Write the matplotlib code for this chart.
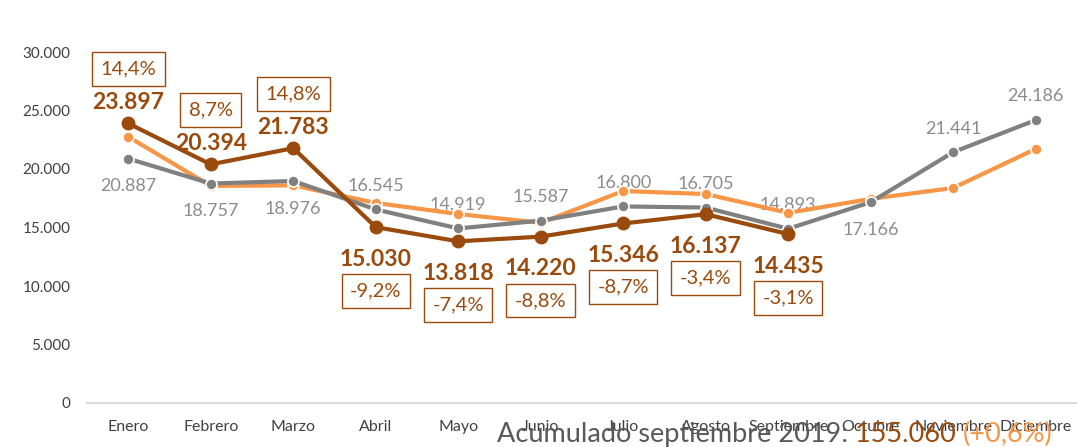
import matplotlib
matplotlib.use("Agg")
import matplotlib.pyplot as plt

plt.rcParams['font.family'] = ['Lato', 'DejaVu Sans']

months = ["Enero", "Febrero", "Marzo", "Abril", "Mayo", "Junio", "Julio",
          "Agosto", "Septiembre", "Octubre", "Noviembre", "Diciembre"]
serie_2017 = [22750, 18550, 18600, 17100, 16150, 15400, 18120, 17860, 16250, 17450, 18380, 21720]
serie_2018 = [20887, 18757, 18976, 16545, 14919, 15587, 16800, 16705, 14893, 17166, 21441, 24186]
serie_2019 = [23897, 20394, 21783, 15030, 13818, 14220, 15346, 16137, 14435]
yticks = [0, 5000, 10000, 15000, 20000, 25000, 30000]

# label placement (1 = above point, -1 = below)
pos_2018 = [-1, -1, -1, 1, 1, 1, 1, 1, 1, -1, 1, 1]
pos_2019 = [1, 1, 1, -1, -1, -1, -1, -1, -1]

C_BROWN = "#9A4A0C"
C_ORANGE = "#F79646"
C_GRAY = "#808080"
C_GRAYTXT = "#8C8C8C"
C_TICK = "#404040"

def fmt(v):
    return f"{v:,.0f}".replace(",", ".")

fig = plt.figure(figsize=(10.77, 4.47), dpi=100)
ax = fig.add_axes([87/1077, 44/447, 990/1077, 351/447])

x = list(range(len(months)))
ax.plot(x, serie_2017, color=C_ORANGE, lw=3, marker='o', ms=8, mfc=C_ORANGE,
        mec='white', mew=1.2, zorder=3)
ax.plot(x, serie_2018, color=C_GRAY, lw=3, marker='o', ms=8, mfc=C_GRAY,
        mec='white', mew=1.2, zorder=4)
ax.plot(x[:len(serie_2019)], serie_2019, color=C_BROWN, lw=3, marker='o', ms=9,
        mfc=C_BROWN, mec=C_BROWN, mew=1, zorder=5)

ax.set_xlim(-0.5, 11.5)
ax.set_ylim(0, 30000)
ax.set_yticks(yticks)
ax.set_yticklabels([fmt(t) for t in yticks], fontsize=11, color=C_TICK)
ax.set_xticks(x)
ax.set_xticklabels(months, fontsize=11.5, color=C_TICK)
ax.tick_params(length=0, pad=12)
ax.tick_params(axis='y', pad=12)
for s in ["top", "right", "left"]:
    ax.spines[s].set_visible(False)
ax.spines["bottom"].set_color("#D9D9D9")
ax.spines["bottom"].set_linewidth(1.5)

# gray labels
for i, (v, p) in enumerate(zip(serie_2018, pos_2018)):
    off = 17 if p > 0 else -20
    ax.annotate(fmt(v), (i, v), xytext=(0, off), textcoords='offset points',
                ha='center', va='center', fontsize=13, color=C_GRAYTXT, zorder=2)

# brown labels + percentage boxes
for i, (v, p) in enumerate(zip(serie_2019, pos_2019)):
    off = 15 if p > 0 else -23
    ax.annotate(fmt(v), (i, v), xytext=(0, off), textcoords='offset points',
                ha='center', va='center', fontsize=16.5, fontweight='bold',
                color=C_BROWN, zorder=6)
    pct = (v / serie_2018[i] - 1) * 100
    txt = f"{pct:.1f}%".replace(".", ",")
    boff = 39 if p > 0 else -46
    ax.annotate(txt, (i, v), xytext=(0, boff), textcoords='offset points',
                ha='center', va='center', fontsize=14.5, color=C_BROWN, zorder=6,
                bbox=dict(boxstyle='square,pad=0.42', fc='white', ec=C_BROWN, lw=1))

# accumulated text
n = len(serie_2019)
acc_19 = sum(serie_2019)
acc_18 = sum(serie_2018[:n])
acc_pct = (acc_19 / acc_18 - 1) * 100
parts = [("Acumulado septiembre 2019: ", "#595959"),
         (fmt(acc_19) + " ", C_BROWN),
         ("(" + f"{acc_pct:+.1f}%".replace(".", ",") + ")", C_ORANGE)]
fig.canvas.draw()
r = fig.canvas.get_renderer()
xpos = 497 / 1077
for t, c in parts:
    tx = fig.text(xpos, 5 / 447, t, fontsize=19.5, color=c, ha='left', va='baseline')
    bb = tx.get_window_extent(renderer=r)
    xpos += bb.width / fig.bbox.width

fig.savefig("out.png", dpi=100)
